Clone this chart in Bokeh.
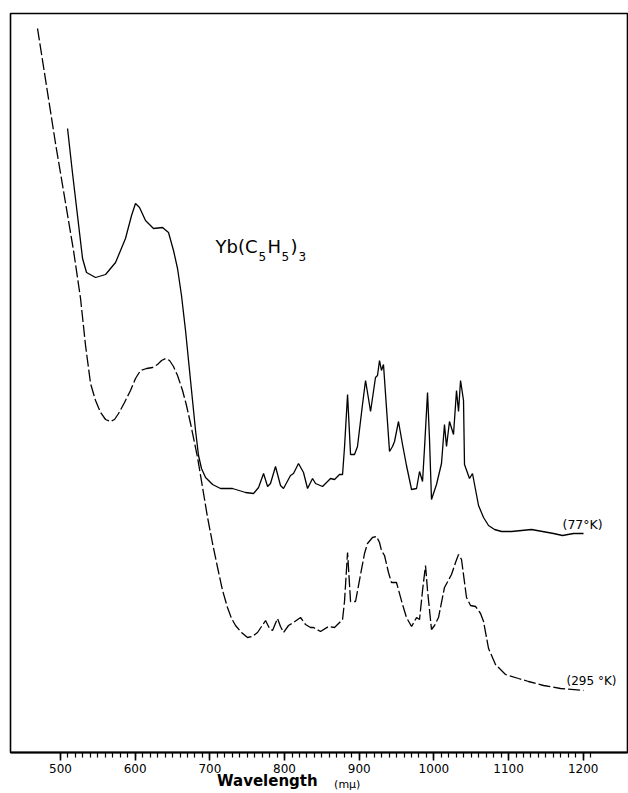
from bokeh.plotting import figure
from bokeh.models import FixedTicker, Label, Range1d, LinearAxis
from bokeh.embed import file_html
from bokeh.resources import INLINE

# Yb(C5H5)3 absorption spectrum, arbitrary absorbance units
wl_77K = [509.4, 516.1, 529.5, 534.8, 546.9, 560.3, 573.7, 587.0, 595.1, 600.4,
          605.8, 613.8, 624.5, 636.6, 644.6, 651.3, 656.7, 662.0, 667.4, 674.1,
          680.8, 684.8, 688.8, 694.2, 703.6, 714.3, 730.3, 747.8, 758.5, 765.2,
          771.9, 777.3, 781.2, 787.9, 794.6, 798.6, 808.0, 812.0, 818.7, 825.4,
          830.8, 837.5, 841.5, 850.9, 861.6, 867.0, 873.6, 877.7, 880.3, 884.4,
          888.4, 893.7, 897.7, 904.4, 908.5, 915.2, 921.8, 924.5, 927.2, 929.8,
          932.5, 940.6, 944.6, 947.3, 952.6, 958.0, 963.3, 970.1, 976.8, 980.8,
          984.8, 987.5, 991.5, 994.2, 996.8, 1003.5, 1010.2, 1014.2, 1016.9, 1020.9,
          1026.3, 1030.3, 1033.0, 1035.7, 1039.7, 1041.0, 1047.7, 1051.7, 1059.8, 1066.5,
          1073.2, 1081.2, 1090.6, 1104.0, 1117.4, 1130.8, 1145.5, 1160.2, 1172.3, 1187.0,
          1200.4]
abs_77K = [62.4, 57.9, 49.4, 48.0, 47.5, 47.8, 49.0, 51.4, 53.7, 54.9,
           54.5, 53.2, 52.4, 52.5, 52.0, 50.2, 48.4, 45.7, 42.2, 37.2,
           32.2, 29.7, 28.4, 27.5, 26.8, 26.4, 26.4, 26.0, 25.9, 26.5,
           27.9, 26.6, 26.9, 28.6, 26.7, 26.4, 27.7, 27.9, 28.9, 28.0,
           26.4, 27.4, 26.9, 26.6, 27.4, 27.3, 27.8, 27.8, 30.5, 35.8,
           29.8, 29.8, 30.6, 34.8, 37.2, 34.1, 37.5, 37.7, 39.2, 38.2,
           38.8, 30.1, 30.6, 31.1, 33.1, 30.8, 28.7, 26.3, 26.4, 28.1,
           27.1, 30.5, 36.0, 31.2, 25.3, 26.8, 28.9, 32.8, 30.6, 33.1,
           31.8, 36.2, 34.1, 37.2, 35.2, 28.8, 27.4, 27.9, 24.7, 23.5,
           22.7, 22.3, 22.1, 22.1, 22.2, 22.3, 22.1, 21.9, 21.7, 21.9,
           21.9]

wl_295K = [469.2, 493.3, 517.4, 526.8, 533.5, 540.2, 546.9, 553.6, 560.3, 567.0,
           572.3, 577.7, 585.7, 593.7, 600.4, 607.1, 615.2, 623.2, 629.9, 635.3,
           640.6, 646.0, 651.3, 656.7, 663.4, 668.7, 674.1, 683.5, 690.2, 696.9,
           703.6, 710.3, 717.0, 723.6, 729.0, 734.4, 742.4, 750.4, 757.1, 763.8,
           769.2, 774.6, 779.9, 783.9, 790.6, 794.6, 798.6, 805.3, 812.0, 821.4,
           828.1, 834.8, 838.8, 848.2, 858.9, 866.9, 877.7, 880.3, 884.4, 888.4,
           895.1, 901.8, 907.1, 911.1, 917.8, 923.2, 927.2, 929.8, 933.9, 939.2,
           943.2, 949.9, 958.0, 963.3, 970.1, 976.8, 980.8, 984.8, 988.8, 991.5,
           996.8, 1000.9, 1006.2, 1014.2, 1023.6, 1029.0, 1033.0, 1037.0, 1043.7, 1049.1,
           1055.8, 1062.5, 1066.5, 1073.2, 1082.5, 1095.9, 1113.3, 1126.7, 1146.8, 1169.6,
           1200.4]
abs_295K = [72.4, 60.9, 50.2, 45.4, 40.7, 36.9, 35.2, 34.0, 33.3, 33.1,
            33.3, 33.9, 35.0, 36.2, 37.4, 38.2, 38.4, 38.5, 38.8, 39.2,
            39.4, 39.2, 38.6, 37.7, 36.2, 34.7, 32.9, 29.5, 26.5, 23.5,
            20.9, 18.5, 16.2, 14.5, 13.4, 12.7, 12.0, 11.5, 11.6, 12.0,
            12.6, 13.2, 12.4, 12.2, 13.4, 12.6, 12.0, 12.7, 13.0, 13.5,
            12.8, 12.5, 12.5, 12.1, 12.6, 12.5, 13.3, 15.1, 20.0, 15.1,
            15.1, 17.8, 19.9, 20.9, 21.5, 21.6, 21.0, 20.2, 19.7, 18.0,
            17.0, 17.0, 14.8, 13.5, 12.6, 13.5, 13.3, 16.2, 18.7, 16.2,
            12.3, 12.7, 13.5, 16.5, 17.8, 19.0, 19.8, 19.3, 15.5, 14.7,
            14.6, 13.9, 13.1, 10.4, 8.8, 7.8, 7.4, 7.1, 6.7, 6.4,
            6.2]

major_ticks = [500, 600, 700, 800, 900, 1000, 1100, 1200]
minor_ticks = list(range(500, 1211, 10))
x_title = "Wavelength"
x_unit = "(mμ)"

p = figure(width=628, height=793, output_backend="svg", toolbar_location=None,
           x_range=Range1d(433.0, 1259.3), y_range=Range1d(0, 73.9),
           y_axis_location=None, min_border_left=10, min_border_right=1,
           min_border_top=13, min_border_bottom=41)
p.grid.visible = False
p.outline_line_color = "black"
p.outline_line_width = 1.6
p.background_fill_color = "white"
p.border_fill_color = "white"

ax = p.xaxis[0]
ax.ticker = FixedTicker(ticks=major_ticks, minor_ticks=minor_ticks)
ax.axis_line_width = 2.2
ax.axis_line_color = "black"
ax.major_tick_in = 0
ax.major_tick_out = 8
ax.minor_tick_in = 0
ax.minor_tick_out = 5
ax.major_tick_line_width = 1.6
ax.minor_tick_line_width = 1.2
ax.major_label_text_font = "DejaVu Sans"
ax.major_label_text_font_size = "12px"
ax.major_label_text_color = "black"
ax.major_label_standoff = 3


def text_axis(tick, text, standoff, size, style="normal"):
    a = LinearAxis(ticker=FixedTicker(ticks=[tick], minor_ticks=[]),
                   major_label_overrides={tick: text})
    a.axis_line_color = None
    a.major_tick_line_color = None
    a.minor_tick_line_color = None
    a.major_tick_out = 0
    a.major_tick_in = 0
    a.major_label_standoff = standoff
    a.major_label_text_font = "DejaVu Sans"
    a.major_label_text_font_style = style
    a.major_label_text_font_size = size
    a.major_label_text_color = "black"
    return a


# axis title row: tick-label positioned texts (small unit, then big bold word)
p.add_layout(text_axis(884, x_unit, 2, "11px"), "below")
p.add_layout(text_axis(777, x_title, -22, "15px", "bold"), "below")

p.line(wl_77K, abs_77K, line_color="black", line_width=1.3)
p.line(wl_295K, abs_295K, line_color="black", line_width=1.3, line_dash="12 3")

# compound formula with subscripts
parts = [("Yb(C", 707.5, 50.6, "18px"), ("5", 765.1, 49.6, "12px"),
         ("H", 777.2, 50.6, "18px"), ("5", 795.9, 49.6, "12px"),
         (")", 808.0, 50.6, "18px"), ("3", 818.7, 49.6, "12px")]
for txt, xx, yy, fs in parts:
    p.add_layout(Label(x=xx, y=yy, text=txt, text_font="DejaVu Sans",
                       text_font_size=fs, text_baseline="middle",
                       text_color="black"))

p.add_layout(Label(x=1172.3, y=22.8, text="(77°K)", text_font="DejaVu Sans",
                   text_font_size="12.5px", text_baseline="middle", text_color="black"))
p.add_layout(Label(x=1177.6, y=7.2, text="(295 °K)", text_font="DejaVu Sans",
                   text_font_size="12px", text_baseline="middle", text_color="black"))

open("out.html", "w").write(file_html(p, INLINE))
